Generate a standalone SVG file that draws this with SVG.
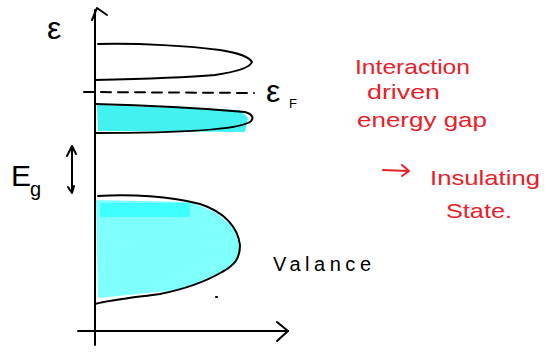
<svg xmlns="http://www.w3.org/2000/svg" width="546" height="354" viewBox="0 0 546 354">
<style>
.ink{fill:none;stroke:#000;stroke-width:2;stroke-linecap:round;stroke-linejoin:round}
.red{fill:#e8202a;font-family:"Liberation Sans",sans-serif;font-size:21px}
.lbl{fill:#000;font-family:"Liberation Sans",sans-serif}
</style>
<rect width="546" height="354" fill="#fff"/>
<g id="fills">
<path d="M97,105 L240,110 L248,118 L245,132 L98,131 Z" fill="#2ff0f0" opacity="0.9"/>
<path d="M96,200 L190,202 L215,212 L235,228 L240,245 L237,263 L222,272 L200,283 L178,290 L98,298 Z" fill="#80ffff"/>
<rect x="100" y="203" width="90" height="14" fill="#40ffff"/>
</g>
<g id="connectors">
<path class="ink" d="M95,345 L95,10"/>
<path class="ink" d="M92,20 L97,8 L107,15"/>
<path class="ink" d="M78,331 L288,331"/>
<path class="ink" d="M277,322 L288,331 L277,341"/>
<path class="ink" d="M72,148 L72,192 M67,156 L72,146 L76,154 M68,187 L72,193 L74,186"/>
<path class="ink" d="M383,170 L408,171 M402,165 L409,171 L402,176" style="stroke:#e8202a"/>
</g>
<g id="upper-band">
<path class="ink" d="M98,44 C140,43 190,46 220,50 C240,53 250,58 252,62 C250,68 235,72 215,75 C180,78 140,79 95,80"/>
</g>
<g id="fermi">
<path class="ink" d="M84,92 L254,93" stroke-dasharray="10,7"/>
<text class="lbl" x="266" y="102" font-size="32">ε</text>
<text class="lbl" x="289" y="108" font-size="13">F</text>
</g>
<g id="middle-band">
<path class="ink" d="M95,104 C140,105 200,108 245,112 C252,114 255,118 250,122 C240,128 200,133 95,133"/>
</g>
<g id="lower-band">
<path class="ink" d="M98,196 C130,194 170,196 200,204 C225,212 238,228 240,245 C240,258 235,265 222,272 C205,282 180,290 160,294 C130,298 110,300 95,304"/>
<path d="M216,297 l1,0" stroke="#000" stroke-width="2" stroke-linecap="round"/>
</g>
<g id="labels">
<text class="lbl" x="47" y="39" font-size="32">ε</text>
<text class="lbl" x="11" y="186" font-size="30">E</text>
<text class="lbl" x="30" y="196" font-size="20">g</text>
<text class="lbl" x="273" y="271" font-size="20" textLength="98" lengthAdjust="spacing">Valance</text>
</g>
<g id="annotation">
<text class="red" x="355" y="74" textLength="115" lengthAdjust="spacingAndGlyphs">Interaction</text>
<text class="red" x="367" y="99" textLength="73" lengthAdjust="spacingAndGlyphs">driven</text>
<text class="red" x="357" y="127" textLength="130" lengthAdjust="spacingAndGlyphs">energy gap</text>
<text class="red" x="430" y="185" textLength="110" lengthAdjust="spacingAndGlyphs">Insulating</text>
<text class="red" x="446" y="218" textLength="66" lengthAdjust="spacingAndGlyphs">State.</text>
</g>
</svg>
